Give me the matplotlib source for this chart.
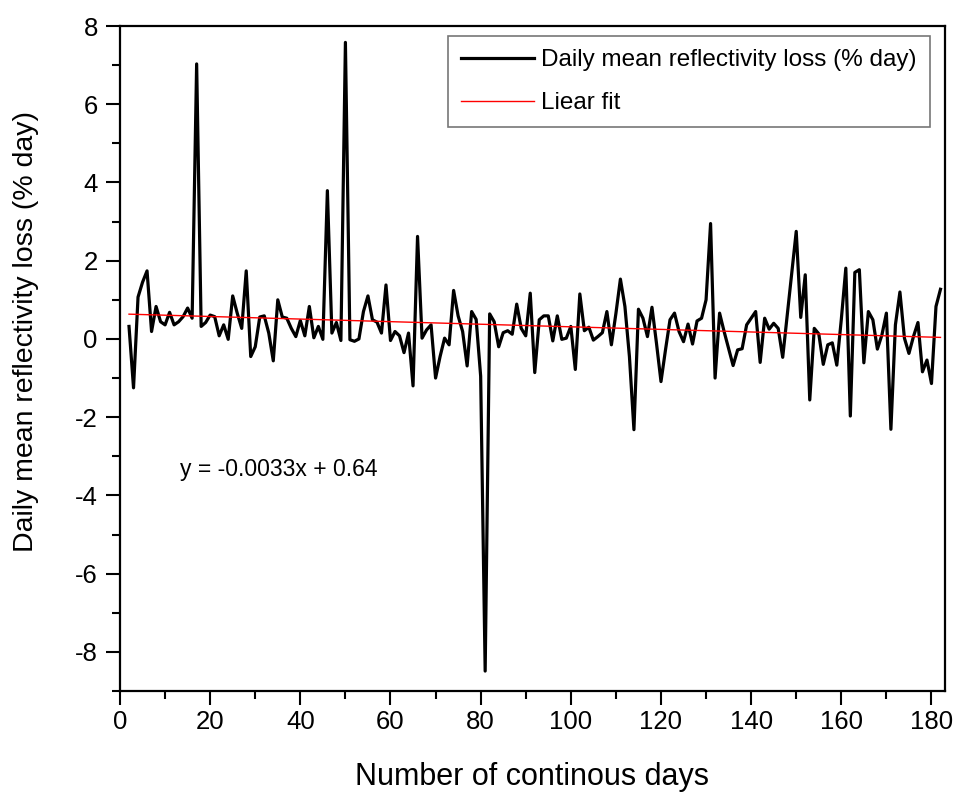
import matplotlib
matplotlib.use("Agg")
import matplotlib.pyplot as plt
from matplotlib.ticker import MultipleLocator
import numpy as np

plt.rcParams['font.family'] = ['Liberation Sans', 'DejaVu Sans']
plt.rcParams['axes.unicode_minus'] = False

# days 2..182
days = list(range(2, 183))

# daily mean reflectivity loss (% day)
loss = [
    0.32, -1.25, 1.07, 1.45, 1.74, 0.19, 0.83, 0.44, 0.36, 0.68,      # 2-11
    0.36, 0.44, 0.57, 0.79, 0.53, 7.03, 0.32, 0.42, 0.61, 0.57,       # 12-21
    0.08, 0.36, -0.01, 1.10, 0.66, 0.27, 1.74, -0.45, -0.20, 0.56,    # 22-31
    0.59, 0.15, -0.56, 1.00, 0.56, 0.53, 0.27, 0.06, 0.47, 0.08,      # 32-41
    0.83, 0.03, 0.32, -0.01, 3.79, 0.15, 0.42, -0.04, 7.58, -0.02,    # 42-51
    -0.06, 0.00, 0.70, 1.10, 0.49, 0.43, 0.15, 1.38, -0.04, 0.19,     # 52-61
    0.08, -0.35, 0.15, -1.20, 2.62, 0.02, 0.23, 0.36, -1.00, -0.45,   # 62-71
    0.02, -0.15, 1.24, 0.59, 0.19, -0.69, 0.70, 0.50, -0.95, -8.49,   # 72-81
    0.64, 0.44, -0.20, 0.16, 0.21, 0.12, 0.89, 0.27, 0.08, 1.17,      # 82-91
    -0.86, 0.49, 0.59, 0.59, -0.05, 0.59, -0.01, 0.02, 0.32, -0.78,   # 92-101
    1.15, 0.21, 0.30, -0.03, 0.06, 0.16, 0.70, -0.15, 0.65, 1.53,     # 102-111
    0.83, -0.45, -2.32, 0.76, 0.53, 0.06, 0.81, -0.11, -1.09, -0.28,  # 112-121
    0.49, 0.66, 0.19, -0.07, 0.38, -0.13, 0.46, 0.53, 1.00, 2.95,     # 122-131
    -1.00, 0.66, 0.19, -0.24, -0.68, -0.28, -0.25, 0.36, 0.53, 0.70,  # 132-141
    -0.60, 0.53, 0.25, 0.40, 0.27, -0.47, 0.60, 1.67, 2.75, 0.55,     # 142-151
    1.64, -1.56, 0.27, 0.13, -0.65, -0.15, -0.10, -0.67, 0.50, 1.81,  # 152-161
    -1.97, 1.70, 1.77, -0.61, 0.70, 0.49, -0.26, 0.10, 0.66, -2.31,   # 162-171
    0.36, 1.20, 0.02, -0.37, 0.06, 0.42, -0.84, -0.54, -1.14, 0.83,   # 172-181
    1.27,                                                             # 182
]

# linear fit coefficients as printed on the chart
fit_slope = -0.0033
fit_intercept = 0.64

x = np.array(days)
fit = fit_slope * x + fit_intercept

fig = plt.figure(figsize=(9.57, 7.93), dpi=100)
ax = fig.add_axes([120 / 957, 1 - 691 / 793, 825 / 957, 665 / 793])

ax.plot(x, loss, color='black', linewidth=2.3,
        label='Daily mean reflectivity loss (% day)')
ax.plot(x, fit, color='red', linewidth=1.0, label='Liear fit')

ax.text(13.3, -3.35, 'y = -0.0033x + 0.64', fontsize=16.5, va='center', ha='left')

ax.set_xlim(0, 183)
ax.set_ylim(-9, 8)
ax.xaxis.set_major_locator(MultipleLocator(20))
ax.xaxis.set_minor_locator(MultipleLocator(10))
ax.yaxis.set_major_locator(MultipleLocator(2))
ax.yaxis.set_minor_locator(MultipleLocator(1))
ax.tick_params(which='major', direction='out', length=10, width=1.5,
               labelsize=18.5, pad=4)
ax.tick_params(which='minor', direction='out', length=6, width=1.5)
ax.tick_params(axis='y', which='major', pad=6)
for s in ax.spines.values():
    s.set_linewidth(1.6)

ax.set_xlabel('Number of continous days', fontsize=22, labelpad=20)
ax.set_ylabel('Daily mean reflectivity loss (% day)', fontsize=20.5)
ax.yaxis.set_label_coords(-0.098, 0.54)

leg = ax.legend(loc='upper right', bbox_to_anchor=(0.982, 0.985),
                borderaxespad=0, fontsize=17.5, fancybox=False,
                handlelength=3.0, handletextpad=0.3, borderpad=0.55,
                labelspacing=0.85)
leg.get_frame().set_edgecolor('#555555')
leg.get_frame().set_linewidth(1.2)

fig.savefig('out.png', dpi=100)
